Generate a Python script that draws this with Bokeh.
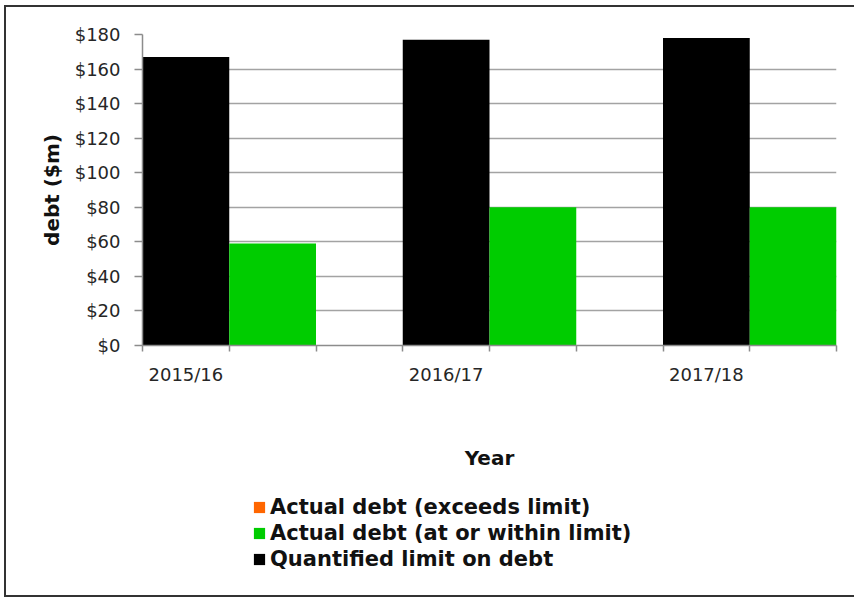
from bokeh.plotting import figure
from bokeh.layouts import column
from bokeh.models import (FixedTicker, NumeralTickFormatter, Range1d, Legend,
                          LegendItem)
from bokeh.embed import file_html
from bokeh.resources import INLINE

# ---- data ----
years = ["2015/16", "2016/17", "2017/18"]
limit_on_debt = [167, 177, 178]      # Quantified limit on debt ($m)
actual_within = [59, 80, 80]         # Actual debt (at or within limit)
actual_exceeds = [0, 0, 0]           # Actual debt (exceeds limit)
y_ticks = [0, 20, 40, 60, 80, 100, 120, 140, 160, 180]
series_labels = ["Actual debt (exceeds limit)",
                 "Actual debt (at or within limit)",
                 "Quantified limit on debt"]
series_colors = ["#ff6600", "#00cc00", "#000000"]

slots = 3                             # slots per year: limit, actual, gap
n_slots = slots * len(years) - 1
x_limit = [slots * i + 0.5 for i in range(len(years))]
x_actual = [slots * i + 1.5 for i in range(len(years))]

FONT = "DejaVu Sans"
GRID = "#a3a3a3"
AX = "#8c8c8c"

p = figure(width=848, height=476,
           x_range=Range1d(0, n_slots), y_range=Range1d(0, y_ticks[-1]),
           output_backend="svg", toolbar_location=None,
           min_border_left=136, min_border_right=18,
           min_border_top=27, min_border_bottom=138)
p.outline_line_color = None
p.background_fill_color = "white"
p.border_fill_color = "white"

p.vbar(x=x_limit, top=limit_on_debt, width=1.0, bottom=0,
       fill_color=series_colors[2], line_color=None)
p.vbar(x=x_actual, top=actual_within, width=1.0, bottom=0,
       fill_color=series_colors[1], line_color=None)
p.vbar(x=x_actual, top=actual_exceeds, width=1.0, bottom=0,
       fill_color=series_colors[0], line_color=None)

# x axis: minor ticks at slot boundaries, labels under the limit bars
p.xaxis.ticker = FixedTicker(ticks=x_limit, minor_ticks=list(range(n_slots + 1)))
p.xaxis.major_label_overrides = {x: y for x, y in zip(x_limit, years)}
p.xaxis.major_tick_line_color = None
p.xaxis.major_tick_out = 0
p.xaxis.major_tick_in = 0
p.xaxis.minor_tick_line_color = AX
p.xaxis.minor_tick_line_width = 1.5
p.xaxis.minor_tick_out = 6
p.xaxis.minor_tick_in = 0
p.xaxis.axis_line_color = AX
p.xaxis.axis_line_width = 1.5
p.xaxis.major_label_text_font = FONT
p.xaxis.major_label_text_font_size = "18px"
p.xaxis.major_label_text_color = "#262626"
p.xaxis.major_label_standoff = 12
p.xaxis.axis_label = "Year"
p.xaxis.axis_label_text_font = FONT
p.xaxis.axis_label_text_font_size = "20px"
p.xaxis.axis_label_text_font_style = "bold"
p.xaxis.axis_label_text_color = "#111111"
p.xaxis.axis_label_standoff = 58

p.yaxis.ticker = FixedTicker(ticks=y_ticks)
p.yaxis.formatter = NumeralTickFormatter(format="$0")
p.yaxis.minor_tick_line_color = None
p.yaxis.major_tick_line_color = AX
p.yaxis.major_tick_line_width = 1.5
p.yaxis.major_tick_out = 8
p.yaxis.major_tick_in = 0
p.yaxis.axis_line_color = AX
p.yaxis.axis_line_width = 1.5
p.yaxis.major_label_text_font = FONT
p.yaxis.major_label_text_font_size = "18px"
p.yaxis.major_label_text_color = "#262626"
p.yaxis.major_label_standoff = 14
p.yaxis.axis_label = "debt ($m)"
p.yaxis.axis_label_text_font = FONT
p.yaxis.axis_label_text_font_size = "20px"
p.yaxis.axis_label_text_font_style = "bold"
p.yaxis.axis_label_text_color = "#111111"
p.yaxis.axis_label_standoff = 8

p.xgrid.grid_line_color = None
p.ygrid.ticker = FixedTicker(ticks=y_ticks)
p.ygrid.grid_line_color = GRID
p.ygrid.grid_line_width = 1.5

# ---- legend strip below the chart ----
lg = figure(width=848, height=112, x_range=Range1d(0, 1), y_range=Range1d(0, 1),
            output_backend="svg", toolbar_location=None,
            x_axis_type=None, y_axis_type=None,
            min_border_left=0, min_border_right=0,
            min_border_top=0, min_border_bottom=0)
lg.outline_line_color = None
lg.xgrid.grid_line_color = None
lg.ygrid.grid_line_color = None
lg.border_fill_color = "white"

items = []
for lab, col in zip(series_labels, series_colors):
    # zero-height stand-in bar, only used for the legend swatch
    r = lg.vbar(x=[0], top=[0], bottom=[0], width=0.0001,
                fill_color=col, line_color=None)
    items.append(LegendItem(label=lab, renderers=[r]))

legend = Legend(items=items, location=(110, 24), orientation="vertical")
legend.padding = 0
legend.margin = 0
legend.border_line_color = None
legend.background_fill_alpha = 0
legend.glyph_width = 14
legend.glyph_height = 14
legend.label_standoff = 4
legend.label_height = 20
legend.spacing = 2
legend.label_text_font = FONT
legend.label_text_font_size = "21px"
legend.label_text_font_style = "bold"
legend.label_text_color = "#111111"
lg.add_layout(legend, "center")

layout = column(p, lg, spacing=0)
layout.styles = {"position": "absolute", "left": "4px", "top": "5px",
                 "border-left": "2px solid #333333",
                 "border-top": "2px solid #333333",
                 "border-bottom": "2px solid #333333"}

open("out.html", "w").write(file_html(layout, INLINE))
